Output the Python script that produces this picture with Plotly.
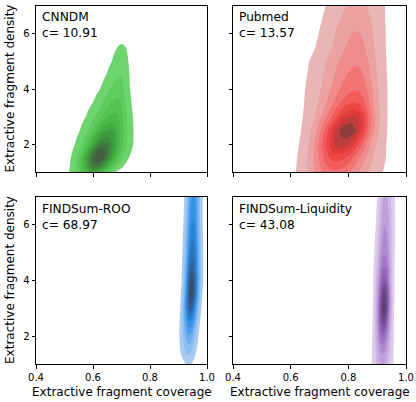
import numpy as np
import plotly.graph_objects as go
from plotly.subplots import make_subplots

# panel labels
names = ["CNNDM", "Pubmed", "FINDSum-ROO", "FINDSum-Liquidity"]
c_values = ["10.91", "13.57", "68.97", "43.08"]

# density, one row per y value:
# ridge centre, outer-contour left / right edge, relative peak height
cnndm_y = [0.5, 0.75, 1.0, 1.25, 1.5, 1.75, 2.0, 2.5, 3.0, 3.5, 4.0, 4.5, 5.0, 5.5, 6.0]
cnndm_center = [0.60, 0.60, 0.605, 0.612, 0.618, 0.628, 0.64, 0.66, 0.675, 0.685, 0.69, 0.695, 0.698, 0.70, 0.70]
cnndm_left = [0.52, 0.517, 0.517, 0.519, 0.522, 0.528, 0.537, 0.554, 0.575, 0.599, 0.625, 0.646, 0.666, 0.685, 0.699]
cnndm_right = [0.63, 0.655, 0.677, 0.71, 0.725, 0.735, 0.741, 0.742, 0.74, 0.735, 0.73, 0.728, 0.724, 0.715, 0.701]
cnndm_peak = [0.2, 0.35, 0.6, 0.85, 1.0, 0.95, 0.82, 0.6, 0.4, 0.29, 0.21, 0.15, 0.1, 0.06, 0.02]

pubmed_y = [0.5, 1.0, 1.5, 2.0, 2.5, 3.0, 3.5, 4.0, 4.5, 5.0, 5.25, 5.5, 6.0, 6.5, 7.0, 7.5]
pubmed_center = [0.74, 0.75, 0.76, 0.775, 0.80, 0.82, 0.825, 0.83, 0.83, 0.83, 0.83, 0.83, 0.83, 0.83, 0.83, 0.83]
pubmed_left = [0.615, 0.618, 0.622, 0.629, 0.636, 0.642, 0.647, 0.65, 0.657, 0.664, 0.675, 0.686, 0.697, 0.709, 0.721, 0.728]
pubmed_right = [0.90, 0.92, 0.93, 0.932, 0.935, 0.936, 0.936, 0.936, 0.934, 0.932, 0.931, 0.93, 0.93, 0.928, 0.927, 0.925]
pubmed_peak = [0.3, 0.45, 0.62, 0.85, 1.0, 0.8, 0.58, 0.46, 0.4, 0.35, 0.32, 0.3, 0.27, 0.22, 0.18, 0.15]

roo_y = [0.5, 1.0, 1.25, 1.5, 2.0, 2.5, 3.0, 3.5, 4.0, 4.5, 5.0, 6.0, 7.0, 7.5]
roo_center = [0.934, 0.934, 0.935, 0.936, 0.938, 0.94, 0.942, 0.945, 0.946, 0.947, 0.948, 0.95, 0.952, 0.952]
roo_left = [0.93, 0.925, 0.912, 0.906, 0.903, 0.904, 0.906, 0.908, 0.911, 0.912, 0.914, 0.917, 0.92, 0.921]
roo_right = [0.94, 0.945, 0.957, 0.963, 0.970, 0.975, 0.98, 0.984, 0.987, 0.987, 0.987, 0.985, 0.985, 0.985]
roo_peak = [0.0, 0.07, 0.13, 0.2, 0.35, 0.55, 0.85, 1.0, 0.96, 0.85, 0.75, 0.6, 0.5, 0.45]

liq_y = [0.5, 1.0, 1.5, 2.0, 2.5, 3.0, 3.5, 4.0, 4.5, 5.0, 6.0, 7.0, 7.5]
liq_center = [0.917, 0.918, 0.919, 0.92, 0.922, 0.924, 0.925, 0.925, 0.926, 0.926, 0.927, 0.928, 0.928]
liq_left = [0.878, 0.881, 0.882, 0.883, 0.884, 0.885, 0.886, 0.887, 0.888, 0.89, 0.895, 0.90, 0.902]
liq_right = [0.955, 0.956, 0.957, 0.958, 0.958, 0.959, 0.96, 0.96, 0.96, 0.961, 0.962, 0.962, 0.962]
liq_peak = [0.15, 0.28, 0.4, 0.6, 0.85, 1.0, 0.92, 0.72, 0.56, 0.46, 0.36, 0.28, 0.24]

# fill colours, light -> dark
green = ["#6ed56e", "#60cc60", "#53c353", "#48b948", "#41ac41", "#3e9c3e", "#3f883f", "#417341", "#445e44"]
red = ["#e9b6b6", "#eda2a2", "#f08c8c", "#f27474", "#f25c5c", "#ee4545", "#de3b3b", "#bd3c3c", "#8f3d3d"]
blue = ["#a8cbf1", "#8bbdf0", "#6cadee", "#4d9eeb", "#3290e6", "#2a82d3", "#2e70b4", "#365e8f", "#3c4d69"]
purple = ["#dccbeb", "#ceb6e3", "#bfa0da", "#b08ad0", "#a176c5", "#9165b6", "#8058a3", "#6e4c8c", "#5b4272"]

LOW = 0.05
STEP = 0.95 / 9
FONT = "DejaVu Sans"


def density_grid(ys, centers, lefts, rights, peaks):
    xs = np.linspace(0.35, 1.05, 281)
    rows = []
    for c, l, r, p in zip(centers, lefts, rights, peaks):
        if p <= LOW:
            rows.append(p * np.exp(-0.5 * ((xs - c) / 0.02) ** 2))
            continue
        k = np.sqrt(2 * np.log(p / LOW))
        s = np.where(xs < c, max(c - l, 1e-3) / k, max(r - c, 1e-3) / k)
        rows.append(p * np.exp(-0.5 * ((xs - c) / s) ** 2))
    return xs, np.array(rows)


def band_scale(colors):
    scale = [[0.0, "rgba(255,255,255,0)"]]
    n = len(colors)
    for i, col in enumerate(colors):
        scale.append([(i + 1) / n, col])
    return scale


panels = [
    (cnndm_y, cnndm_center, cnndm_left, cnndm_right, cnndm_peak, green),
    (pubmed_y, pubmed_center, pubmed_left, pubmed_right, pubmed_peak, red),
    (roo_y, roo_center, roo_left, roo_right, roo_peak, blue),
    (liq_y, liq_center, liq_left, liq_right, liq_peak, purple),
]

fig = make_subplots(rows=2, cols=2)

for i, (ys, cen, lef, rig, pk, cols) in enumerate(panels):
    xs, z = density_grid(ys, cen, lef, rig, pk)
    fig.add_trace(go.Contour(
        x=xs, y=ys, z=z,
        contours=dict(start=LOW, end=0.9, size=STEP, coloring="fill", showlines=False),
        line=dict(smoothing=1.0, width=0),
        colorscale=band_scale(cols), showscale=False, hoverinfo="skip",
    ), row=i // 2 + 1, col=i % 2 + 1)

W, H = 416, 402
x_dom = [[36 / W, 207 / W], [233 / W, 406 / W]]
y_dom = [[1 - 172 / H, 1 - 6 / H], [1 - 364 / H, 1 - 197 / H]]

axis_style = dict(showline=True, linecolor="black", linewidth=1, mirror=True,
                  ticks="outside", ticklen=3.5, tickwidth=0.8, tickcolor="black",
                  showgrid=False, zeroline=False, automargin=False,
                  tickfont=dict(family=FONT, size=10, color="black"))

for i in range(4):
    r, c = i // 2, i % 2
    suffix = "" if i == 0 else str(i + 1)
    fig.layout["xaxis" + suffix].update(
        domain=x_dom[c], range=[0.4, 1.0], tickvals=[0.4, 0.6, 0.8, 1.0],
        ticktext=["0.4", "0.6", "0.8", "1.0"], showticklabels=(r == 1), **axis_style)
    fig.layout["yaxis" + suffix].update(
        domain=y_dom[r], range=[1, 7], tickvals=[2, 4, 6],
        showticklabels=(c == 0), **axis_style)
    fig.add_annotation(
        x=0.025, y=0.985, xref="x%s domain" % suffix, yref="y%s domain" % suffix,
        text=names[i] + "<br>c= " + c_values[i], showarrow=False,
        xanchor="left", yanchor="top", align="left",
        font=dict(family=FONT, size=12.2, color="black"))

for r in range(2):
    fig.add_annotation(
        x=9.5 / W, y=(y_dom[r][0] + y_dom[r][1]) / 2, xref="paper", yref="paper",
        xanchor="center", yanchor="middle",
        text="Extractive fragment density", textangle=-90, showarrow=False,
        font=dict(family=FONT, size=12, color="black"))
for c in range(2):
    fig.add_annotation(
        x=(x_dom[c][0] + x_dom[c][1]) / 2, y=1 - 392 / H, xref="paper", yref="paper",
        xanchor="center", yanchor="middle",
        text="Extractive fragment coverage", showarrow=False,
        font=dict(family=FONT, size=12, color="black"))

fig.update_layout(width=W, height=H, margin=dict(l=0, r=0, t=0, b=0),
                  paper_bgcolor="white", plot_bgcolor="white", showlegend=False)

# page body has a default 8px margin; drop it so the figure fills the window
fig.write_html("out.html", config={"displayModeBar": False},
               post_script="document.body.style.margin = '0';")
